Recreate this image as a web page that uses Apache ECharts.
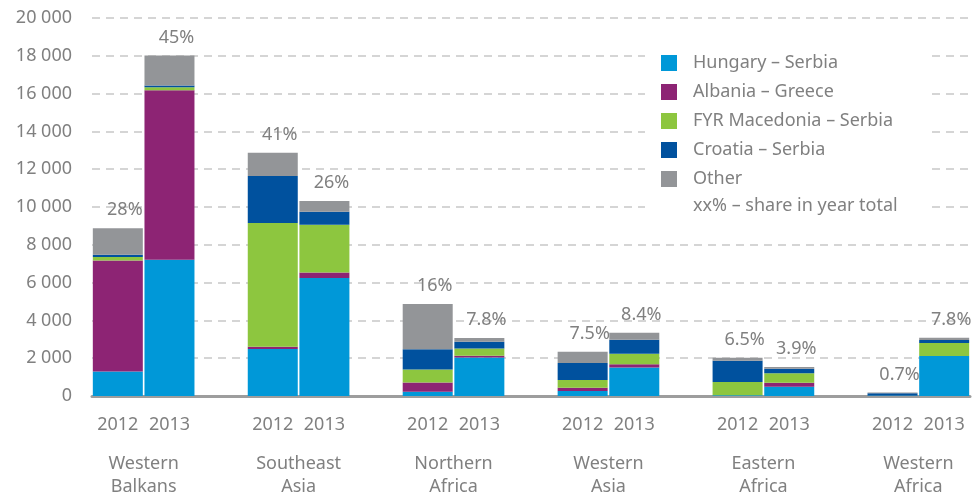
<!DOCTYPE html>
<html>
<head>
<meta charset="utf-8">
<script src="https://cdn.jsdelivr.net/npm/echarts@6/dist/echarts.min.js"></script>
<style>
  html, body { margin: 0; padding: 0; background: #fff; }
  #main { width: 979px; height: 498px; }
</style>
</head>
<body>
<div id="main"></div>
<script>
// regions and years on the x axis
const regions = ['Western\nBalkans', 'Southeast\nAsia', 'Northern\nAfrica', 'Western\nAsia', 'Eastern\nAfrica', 'Western\nAfrica'];
const years = ['2012', '2013'];
// values per region/year: WB12, WB13, SA12, SA13, NA12, NA13, WAs12, WAs13, EA12, EA13, WAf12, WAf13
const hungarySerbia      = [1300, 7210, 2490, 6250,  230, 2035,  260, 1510,   40,  490,  30, 2120];
const albaniaGreece      = [5875, 8965,  120,  280,  480,   90,  180,  175,    0,  210,   0,    0];
const fyrMacedoniaSerbia = [ 175,  160, 6545, 2525,  690,  390,  400,  545,  700,  510,   0,  685];
const croatiaSerbia      = [ 125,   90, 2490,  700, 1070,  350,  900,  740, 1120,  230, 110,  160];
const other              = [1405, 1595, 1230,  560, 2400,  210,  600,  370,  160,   90,  50,  120];
const shares = ['28%', '45%', '41%', '26%', '16%', '7.8%', '7.5%', '8.4%', '6.5%', '3.9%', '0.7%', '7.8%'];
const yTicks = { min: 0, max: 20000, step: 2000 };

const textColor = '#808080';
const font = 'Noto Sans';

// category list: 2012, 2013, gap, 2012, 2013, gap ...
let categories = [];
let slot = []; // index into the 12 values, or -1 for a gap
regions.forEach(function (r, i) {
    years.forEach(function (y, k) {
        categories.push(i + '-' + y);
        slot.push(i * 2 + k);
    });
    if (i < regions.length - 1) {
        categories.push('gap' + i);
        slot.push(-1);
    }
});

function fill(arr) {
    return slot.map(function (s) { return s < 0 ? '-' : arr[s]; });
}

// second axis with half-category steps so region names sit between the two bars
let halfSteps = [];
for (let j = 0; j < categories.length * 2 + 1; j++) halfSteps.push('h' + j);
function regionLabel(idx) {
    return idx % 6 === 2 ? regions[(idx - 2) / 6] : '';
}

function fmtThousands(v) {
    return String(v).replace(/\B(?=(\d{3})+(?!\d))/g, ' ');
}

let seriesDefs = [
    { name: 'Hungary – Serbia', data: hungarySerbia, color: '#0098d8' },
    { name: 'Albania – Greece', data: albaniaGreece, color: '#8d2474' },
    { name: 'FYR Macedonia – Serbia', data: fyrMacedoniaSerbia, color: '#8dc63f' },
    { name: 'Croatia – Serbia', data: croatiaSerbia, color: '#00519e' },
    { name: 'Other', data: other, color: '#939598' }
];

let series = seriesDefs.map(function (d, i) {
    let s = {
        name: d.name,
        type: 'bar',
        stack: 'total',
        barWidth: 50,
        data: fill(d.data),
        itemStyle: { color: d.color },
        emphasis: { disabled: true }
    };
    if (i === seriesDefs.length - 1) {
        s.label = {
            show: true,
            position: 'top',
            offset: [7, -4],
            color: textColor,
            fontFamily: font,
            fontSize: 18,
            formatter: function (p) { return shares[slot[p.dataIndex]]; }
        };
    }
    return s;
});

let myChart = echarts.init(document.getElementById('main'));
let option = {
    animation: false,
    backgroundColor: '#fff',
    textStyle: { fontFamily: font },
    title: {
        text: 'xx% – share in year total',
        left: 693,
        top: 197,
        padding: 0,
        textStyle: { fontSize: 18, fontWeight: 'normal', color: textColor, fontFamily: font }
    },
    legend: {
        orient: 'vertical',
        left: 645,
        top: 34,
        padding: [18, 38, 40, 16],
        backgroundColor: '#fff',
        itemWidth: 16,
        itemHeight: 16,
        itemGap: 7,
        icon: 'rect',
        selectedMode: false,
        textStyle: { fontSize: 18, color: textColor, fontFamily: font, lineHeight: 22, padding: [0, 0, 0, 11] },
        data: seriesDefs.map(function (d) { return d.name; })
    },
    grid: { left: 92, right: 9, top: 18, bottom: 100, containLabel: false },
    xAxis: [{
        type: 'category',
        data: categories,
        axisLine: { lineStyle: { color: '#9d9d9d', width: 3 } },
        axisTick: { show: false },
        axisLabel: {
            interval: 0,
            margin: 20,
            color: textColor,
            fontSize: 18,
            fontFamily: font,
            formatter: function (v) { return v.indexOf('gap') === 0 ? '' : v.split('-')[1]; }
        }
    }, {
        type: 'category',
        position: 'bottom',
        offset: 46,
        boundaryGap: false,
        data: halfSteps,
        axisLine: { show: false },
        axisTick: { show: false },
        axisLabel: {
            interval: 0,
            margin: 10,
            color: textColor,
            fontSize: 18,
            lineHeight: 23,
            fontFamily: font,
            formatter: function (v, idx) { return regionLabel(idx); }
        }
    }],
    yAxis: {
        type: 'value',
        min: yTicks.min,
        max: yTicks.max,
        interval: yTicks.step,
        axisLine: { show: false },
        axisTick: { show: false },
        axisLabel: {
            margin: 20,
            color: textColor,
            fontSize: 18,
            fontFamily: font,
            formatter: fmtThousands
        },
        splitLine: { lineStyle: { color: '#c8c8c8', width: 1.5, type: [8, 6] } }
    },
    series: series
};
myChart.setOption(option, true);
</script>
</body>
</html>
